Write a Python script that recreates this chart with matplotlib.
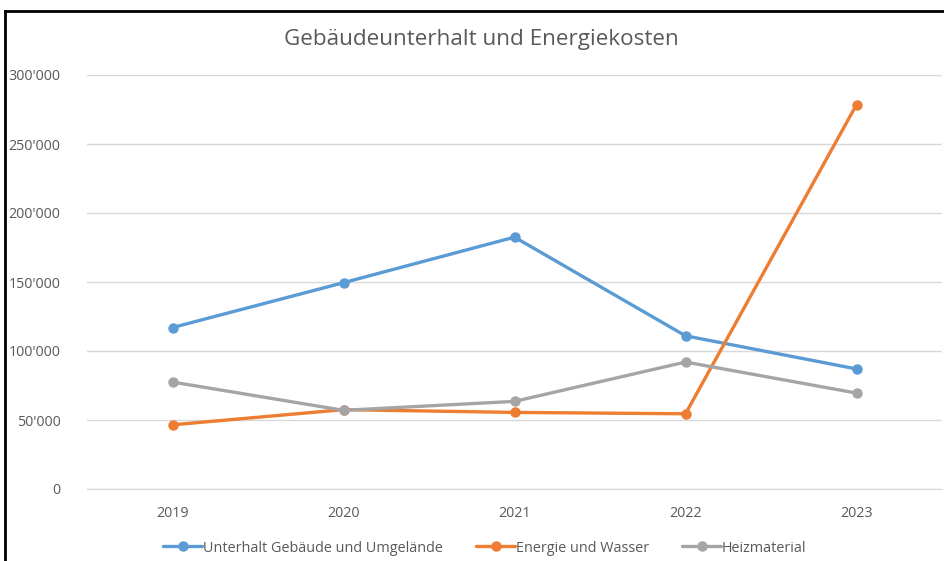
import matplotlib
matplotlib.use("Agg")
import matplotlib.pyplot as plt
from matplotlib.lines import Line2D
from matplotlib.ticker import FuncFormatter

years = ["2019", "2020", "2021", "2022", "2023"]
unterhalt = [117000, 149500, 182500, 111000, 87000]
energie = [46500, 57500, 55500, 54500, 278500]
heiz = [77500, 57000, 63500, 92000, 69500]
series_names = ["Unterhalt Gebäude und Umgelände", "Energie und Wasser", "Heizmaterial"]
colors = ["#5B9BD5", "#ED7D31", "#A5A5A5"]
yticks = [0, 50000, 100000, 150000, 200000, 250000, 300000]

plt.rcParams['font.family'] = ['Open Sans', 'DejaVu Sans']

fig = plt.figure(figsize=(9.45, 5.61), dpi=100)
ax = fig.add_axes([87/945, 1-489/561, (942-87)/945, (489-75)/561])

x = list(range(len(years)))
for vals, name, c in zip([unterhalt, energie, heiz], series_names, colors):
    ax.plot(x, vals, color=c, lw=2.4, marker='o', markersize=6.5, label=name,
            solid_capstyle='round', zorder=3)

ax.set_xlim(-0.5, len(years) - 0.5)
ax.set_ylim(0, 300000)
ax.set_yticks(yticks)
ax.yaxis.set_major_formatter(FuncFormatter(lambda v, p: "0" if v == 0 else f"{int(v):,}".replace(",", "'")))
ax.set_xticks(x)
ax.set_xticklabels(years)
ax.grid(axis='y', color='#D9D9D9', lw=1)
ax.set_axisbelow(True)
for s in ['top', 'right', 'left']:
    ax.spines[s].set_visible(False)
ax.spines['bottom'].set_color('#D9D9D9')
ax.tick_params(axis='both', length=0, colors='#595959', labelsize=10.3)
ax.tick_params(axis='y', pad=19)
ax.tick_params(axis='x', pad=12)

fig.text(481/945, 1-40/561, "Gebäudeunterhalt und Energiekosten", ha='center', va='center',
         fontsize=16.2, color='#595959')

leg = fig.legend(loc='center', bbox_to_anchor=(485/945, 1-548/561), ncol=3, frameon=False,
                 fontsize=10.4, handlelength=2.7, handletextpad=0.05, columnspacing=2.3)
for t in leg.get_texts():
    t.set_color('#595959')

fig.add_artist(Line2D([5/945, 1], [1-11/561, 1-11/561], color='black', lw=2, transform=fig.transFigure))
fig.add_artist(Line2D([5/945, 5/945], [0, 1-11/561], color='black', lw=2, transform=fig.transFigure))

fig.savefig("out.png", dpi=100)
